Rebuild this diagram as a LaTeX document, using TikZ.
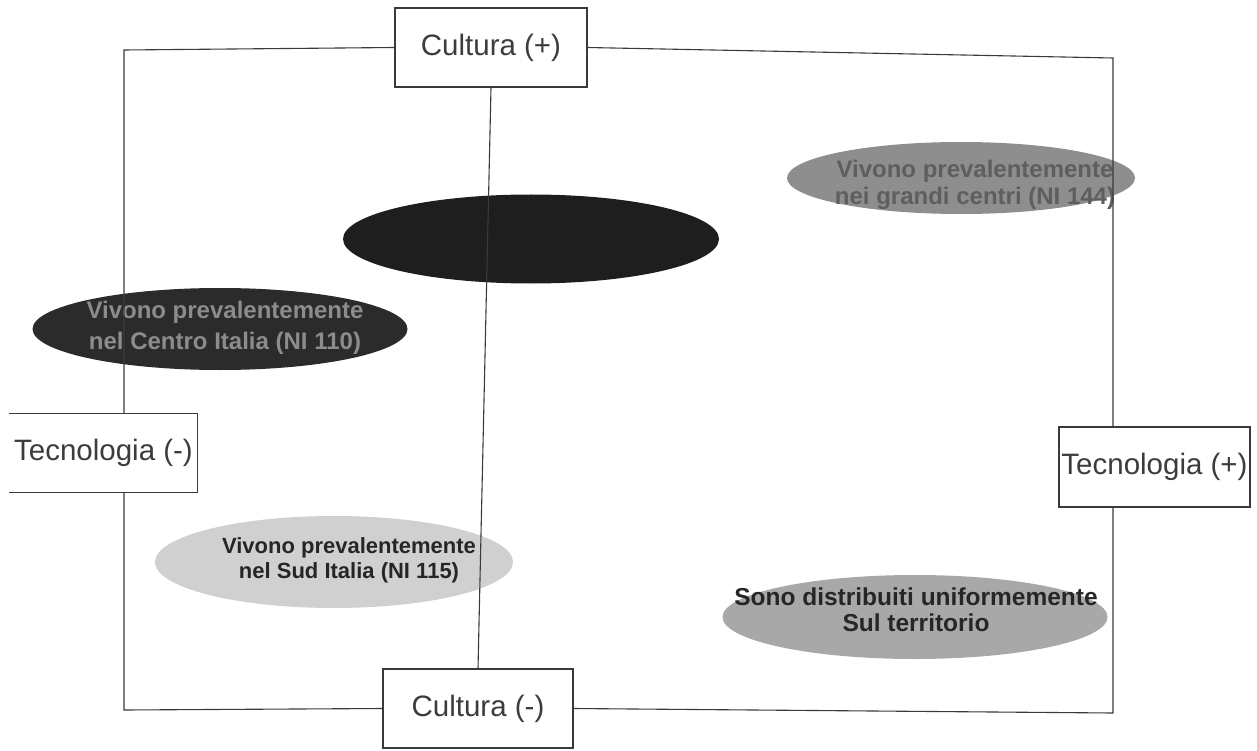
\documentclass[tikz,border=0pt]{standalone}
\usepackage{fontspec}
\setmainfont{Liberation Sans}
\usetikzlibrary{shapes.geometric}
\definecolor{linec}{HTML}{3A3A3A}
\definecolor{boxtext}{HTML}{3C3C3C}
\definecolor{darkA}{HTML}{1E1E1E}
\definecolor{darkB}{HTML}{2B2B2B}
\definecolor{darkBtext}{HTML}{8C8C8C}
\definecolor{midA}{HTML}{8E8E8E}
\definecolor{midAtext}{HTML}{5E5E5E}
\definecolor{lightA}{HTML}{D0D0D0}
\definecolor{midB}{HTML}{A8A8A8}
\definecolor{blobtext}{HTML}{262626}
\begin{document}
\begin{tikzpicture}[x=1pt,y=-1pt,
  axisbox/.style={draw=linec, line width=1.1pt, fill=white, inner sep=0pt,
    text=boxtext, font=\fontsize{29.5}{32}\selectfont},
  frame/.style={draw=linec, line width=1.1pt},
  blob/.style={ellipse, inner sep=0pt},
  blobtxt/.style={inner sep=0pt, align=center,
    font=\bfseries\fontsize{24}{27}\selectfont}]
\useasboundingbox (0,0) rectangle (1257,751);

% ellipses
\node[blob, fill=darkA, minimum width=376pt, minimum height=89pt] (e1) at (531,239) {};
\node[blob, fill=darkB, minimum width=375pt, minimum height=82pt] (e2) at (220,329) {};
\node[blob, fill=midA, minimum width=348pt, minimum height=72pt] (e3) at (961,178) {};
\node[blob, fill=lightA, minimum width=358pt, minimum height=92pt] (e4) at (334,562) {};
\node[blob, fill=midB, minimum width=385pt, minimum height=84pt] (e5) at (915,617) {};

% ellipse texts
\node[blobtxt, text=darkBtext, font=\bfseries\fontsize{24}{31}\selectfont] (t2) at (225,328)
  {Vivono prevalentemente\\nel Centro Italia (NI 110)};
\node[blobtxt, text=midAtext] (t3) at (975,185)
  {Vivono prevalentemente\\nei grandi centri (NI 144)};
\node[blobtxt, text=blobtext, font=\bfseries\fontsize{22}{25}\selectfont] (t4) at (349,560)
  {Vivono prevalentemente\\nel Sud Italia (NI 115)};
\node[blobtxt, text=blobtext, font=\bfseries\fontsize{24.5}{26}\selectfont] (t5) at (916,610)
  {Sono distribuiti uniformemente\\Sul territorio};

% axis boxes
\node[axisbox, minimum width=192pt, minimum height=79pt] (cp) at (491,47.5) {Cultura (+)};
\node[axisbox, minimum width=190pt, minimum height=79pt] (cm) at (478,708.5) {Cultura (-)};
\node[axisbox, draw=none, minimum width=187pt, minimum height=78pt] (tm) at (103.5,453) {Tecnologia (-)};
\draw[frame] (tm.north west) -- (tm.north east) -- (tm.south east) -- (tm.south west);
\node[axisbox, minimum width=191pt, minimum height=80pt] (tp) at (1154.5,467) {Tecnologia (+)};

% frame
\coordinate (tl) at (124,50);
\coordinate (bl) at (124,710);
\coordinate (tr) at (1113,58);
\coordinate (br) at (1113,713);
\draw[frame] (cp.west) -- (tl) -- (tl |- tm.north);
\draw[frame] (tl |- tm.south) -- (bl) -- (cm.west);
\draw[frame] (cm.east) -- (br) -- (br |- tp.south);
\draw[frame] (tr |- tp.north) -- (tr) -- (cp.east);
\draw[frame] (cp.south) -- (cm.north);
\end{tikzpicture}
\end{document}
